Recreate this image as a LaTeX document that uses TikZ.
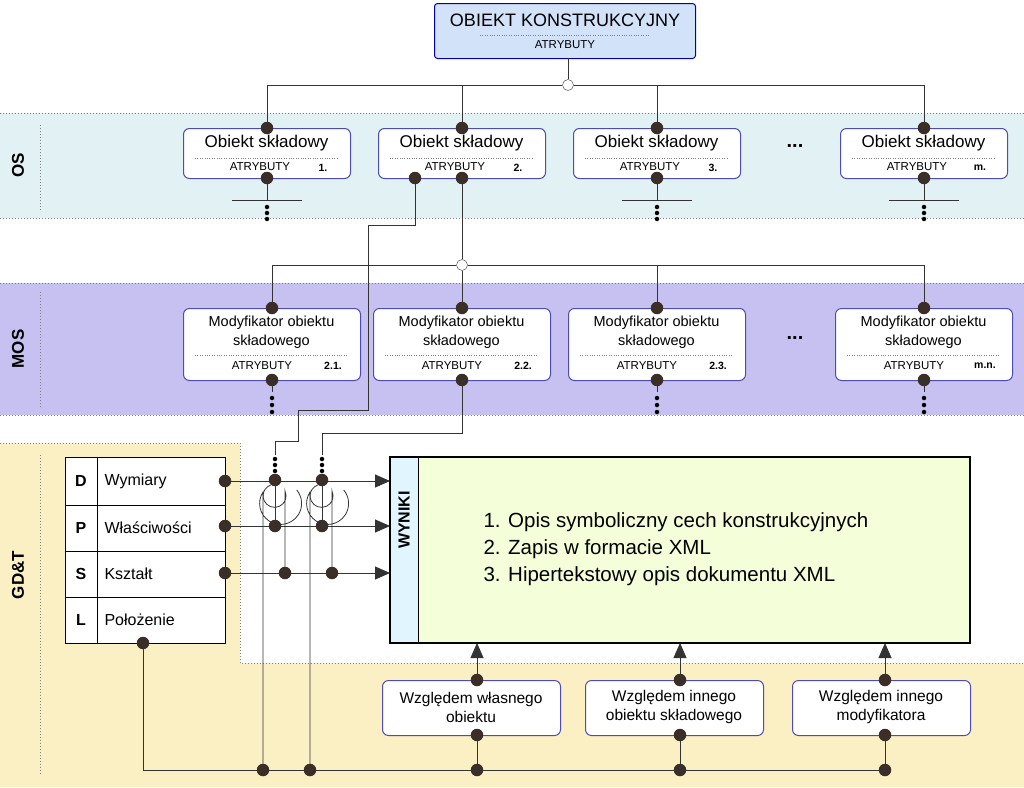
\documentclass[tikz,border=0pt]{standalone}
\usepackage{fontspec}
\setmainfont{Liberation Sans}
\usetikzlibrary{arrows.meta}
\definecolor{mosc}{HTML}{C7C1F2}
\definecolor{osc}{HTML}{E2F2F4}
\definecolor{gdc}{HTML}{FBEFC4}
\definecolor{topc}{HTML}{D2E2F8}
\definecolor{dotc}{HTML}{3A2E26}
\begin{document}
\begin{tikzpicture}[x=1pt,y=-1pt,
  ln/.style={draw=black!80,line width=0.9pt},
  dt/.style={circle,fill=dotc,inner sep=0,minimum size=12.5pt},
  sd/.style={circle,fill=black,inner sep=0,minimum size=4.5pt},
  box/.style={draw=blue!40!gray,rounded corners=6pt,fill=white,line width=1pt},
  band/.style={draw=gray,dotted,line width=1pt},
  ttl/.style={font=\fontsize{17}{19}\selectfont,align=center},
  atr/.style={font=\fontsize{11.5}{12}\selectfont},
  arr/.style={ln,-{Triangle[length=15pt,width=13pt]}},
  hop/.style={draw=black!80,line width=0.8pt}]
\useasboundingbox (0,0) rectangle (1024,787);
% bands
\fill[osc] (0,113) rectangle (1024,218);
\draw[band] (0,113) -- (1024,113) (0,218) -- (1024,218) (40,125) -- (40,212);
\fill[mosc] (0,283) rectangle (1024,415);
\draw[band] (0,283) -- (1024,283) (0,415) -- (1024,415) (40,292) -- (40,408);
\fill[gdc] (0,443) -- (240,443) -- (240,663) -- (1024,663) -- (1024,787) -- (0,787) -- cycle;
\draw[band] (0,443) -- (240,443) -- (240,663) -- (1024,663);
\draw[band] (40,455) -- (40,775);
\node[rotate=90,font=\bfseries\fontsize{17}{19}\selectfont] (los) at (18,165) {OS};
\node[rotate=90,font=\bfseries\fontsize{17}{19}\selectfont] (lmos) at (18,349) {MOS};
\node[rotate=90,font=\bfseries\fontsize{17}{19}\selectfont] (lgd) at (18,575) {GD\&T};
% top box
\node[box,fill=topc,draw=blue!70!black,rounded corners=3pt,minimum width=261pt,minimum height=55pt,anchor=north west] (top) at (434,3) {};
\node[ttl,font=\fontsize{18}{20}\selectfont] (topt) at (565,20) {OBIEKT KONSTRUKCYJNY};
\draw[dotted,gray] (480,35) -- (650,35);
\node[atr] (topa) at (565,45) {ATRYBUTY};
\coordinate (tb) at (565,58);
\node[circle,draw=black!80,fill=white,inner sep=0,minimum size=11pt] (c1) at (568,85) {};
\draw[ln] (568,58) -- (c1);
\draw[ln] (267,128) |- (c1.west) (c1.east) -| (924,128) (462,128) -- (462,85) (657,128) -- (657,85);
% OS boxes
\foreach \x/\c/\n in {183/267/1.,378/462/2.,573/657/3.,840/924/m.}{
  \node[box,minimum width=167pt,minimum height=50pt,anchor=north west] (ob\n) at (\x,128) {};
  \node[ttl] at (\x+83.5,143) {Obiekt składowy};
  \draw[dotted,gray] (\x+12,158) -- (\x+155,158);
  \node[atr] at (\c-7,167) {ATRYBUTY};
  \node[atr,font=\bfseries\fontsize{10.5}{11}\selectfont] at (\x+140,168) {\n};
  \node[dt] at (\c,128) {};
  \node[dt] at (\c,178) {};
}
\foreach \c in {267,657,924}{
  \draw[ln] (\c,178) -- (\c,200) (\c-35,200) -- (\c+35,200);
  \node[sd] at (\c,207) {}; \node[sd] at (\c,213) {}; \node[sd] at (\c,219) {};
}
\node[dt] (o2b) at (415,178) {};
\node[font=\bfseries\fontsize{20}{20}\selectfont] at (795,146) {...};
% MOS
\node[circle,draw=black!80,fill=white,inner sep=0,minimum size=11pt] (c2) at (462,265) {};
\draw[ln] (462,178) -- (c2) -- (462,308);
\draw[ln] (272,308) |- (c2.west) (c2.east) -| (924,308) (657,308) -- (657,265);
\foreach \x/\c/\n in {183/272/2.1.,373/462/2.2.,568/657/2.3.,835/924/m.n.}{
  \node[box,minimum width=177pt,minimum height=72pt,anchor=north west] (mb\n) at (\x,308) {};
  \node[ttl,font=\fontsize{14.5}{19}\selectfont] at (\x+88.5,332) {Modyfikator obiektu\\składowego};
  \draw[dotted,gray] (\x+12,355) -- (\x+165,355);
  \node[atr] at (\c-10,366) {ATRYBUTY};
  \node[atr,font=\bfseries\fontsize{10.5}{11}\selectfont] at (\x+150,366) {\n};
  \node[dt] at (\c,308) {};
  \node[dt] at (\c,380) {};
}
\foreach \c in {272,657,924}{
  \draw[ln] (\c,380) -- (\c,392);
  \node[sd] at (\c,398) {}; \node[sd] at (\c,405) {}; \node[sd] at (\c,412) {};
}
\node[font=\bfseries\fontsize{20}{20}\selectfont] at (795,338) {...};
% table
\draw[ln,draw=black,fill=white] (65,457) rectangle (225,643);
\foreach \y in {505,551,597} \draw[ln,draw=black] (65,\y) -- (225,\y);
\draw[ln,draw=black] (97,457) -- (97,643);
\foreach \y/\l/\t in {481/D/Wymiary,528/P/Właściwości,574/S/Kształt,620/L/Położenie}{
  \node[font=\bfseries\fontsize{16}{18}\selectfont] at (81,\y) {\l};
  \node[anchor=west,font=\fontsize{16}{18}\selectfont] at (101,\y) {\t};
}
% results box
\draw[line width=1.3pt,fill=green!30!yellow!15] (390,457) rectangle (970,643);
\fill[cyan!12] (391,458) rectangle (418,642);
\draw[line width=0.9pt] (418,457) -- (418,643);
\node[rotate=90,font=\bfseries\fontsize{16}{18}\selectfont] (wyn) at (404,520) {WYNIKI};
\node[anchor=west,align=left,font=\fontsize{20.5}{27}\selectfont] (res) at (480,549) {1. Opis symboliczny cech konstrukcyjnych\\2. Zapis w formacie XML\\3. Hipertekstowy opis dokumentu XML};
% rows to results
\foreach \y in {481,526,573}{ \node[dt] at (225,\y) {}; \draw[arr] (225,\y) -- (390,\y); }
% connections from OS/MOS box 2
\draw[ln] (o2b) -- (415,225) -- (368,225) -- (368,410) -- (298,410) -- (298,441) -- (275,441) -- (275,455);
\draw[ln] (462,380) -- (462,433) -- (322,433) -- (322,455);
\foreach \c in {275,322}{
  \node[sd] at (\c,459) {}; \node[sd] at (\c,465) {}; \node[sd] at (\c,471) {};
  \node[dt] at (\c,480) {};
  \node[dt] at (\c,526) {};
  \node[dt] at (\c+10,573) {};
  \draw[ln] (\c,480) -- (\c,526);
  \draw[hop] (\c-12,770) -- (\c-12,492) arc[start angle=213,end angle=-40,radius=21];
  \draw[hop] (\c+10,573) -- (\c+10,491) arc[start angle=-25,end angle=250,radius=11.5];
}
% bottom boxes
\foreach \x/\c/\t in {382/477/{Względem własnego\\obiektu},585/680/{Względem innego\\obiektu składowego},792/885/{Względem innego\\modyfikatora}}{
  \node[box,minimum width=178pt,minimum height=55pt,anchor=north west] at (\x,680) {};
  \node[ttl,font=\fontsize{15.5}{19}\selectfont] at (\x+89,707) {\t};
  \node[dt] at (\c,680) {};
  \node[dt] at (\c,735) {};
  \node[dt] at (\c,770) {};
  \draw[arr] (\c,680) -- (\c,643);
  \draw[ln] (\c,735) -- (\c,770);
}
\node[dt] (lrow) at (143,643) {};
\draw[ln] (lrow) -- (143,770) -- (885,770);
\node[dt] at (263,770) {};
\node[dt] at (310,770) {};
\end{tikzpicture}
\end{document}
